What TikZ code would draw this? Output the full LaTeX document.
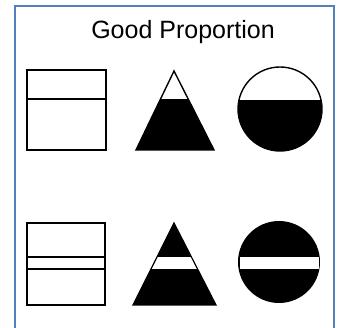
\documentclass[tikz,border=0pt]{standalone}
\usepackage{fontspec}
\setmainfont{Liberation Sans}
\begin{document}
\begin{tikzpicture}[x=1pt,y=-1pt,
  frameline/.style={draw={rgb,255:red,79;green,129;blue,189},line width=1.5pt},
  outline/.style={draw=black,line width=1.4pt,line join=miter},
  fillblack/.style={fill=black}]
\useasboundingbox (0,0) rectangle (343,328);
% frame (open at bottom)
\draw[frameline] (15,330) -- (15,6) -- (334,6) -- (334,330);
% title
\node[anchor=base,font=\fontsize{25}{28}\selectfont,inner sep=0pt] (title) at (183,39) {Good Proportion};

% ---- row 1 ----
% rectangle
\draw[outline] (27,70) rectangle (106,150);
\draw[outline] (27,99) -- (106,99);
% triangle
\coordinate (t1a) at (174,71);
\coordinate (t1l) at (136,150);
\coordinate (t1r) at (214,150);
\begin{scope}
\clip (t1a) -- (t1l) -- (t1r) -- cycle;
\fill[black] (120,99) rectangle (230,151);
\end{scope}
\draw[outline] (t1a) -- (t1l) -- (t1r) -- cycle;
% circle
\coordinate (c1) at (280,109);
\begin{scope}
\clip (c1) circle (42);
\fill[black] (230,100) rectangle (330,160);
\end{scope}
\draw[outline] (c1) circle (42);

% ---- row 2 ----
\draw[outline] (27,223) rectangle (105,305);
\draw[outline] (27,257) -- (105,257);
\draw[outline] (27,269) -- (105,269);
% triangle
\coordinate (t2a) at (174,223);
\coordinate (t2l) at (133,305);
\coordinate (t2r) at (216,305);
\fill[black] (t2a) -- (t2l) -- (t2r) -- cycle;
\begin{scope}
\clip (t2a) -- (t2l) -- (t2r) -- cycle;
\fill[white] (120,257) rectangle (230,269);
\end{scope}
\draw[black,line width=1.2pt] (t2a) -- (t2l) -- (t2r) -- cycle;
% circle
\coordinate (c2) at (279,262);
\fill[black] (c2) circle (41);
\fill[white] (239.5,257) rectangle (318.5,269);
\end{tikzpicture}
\end{document}
